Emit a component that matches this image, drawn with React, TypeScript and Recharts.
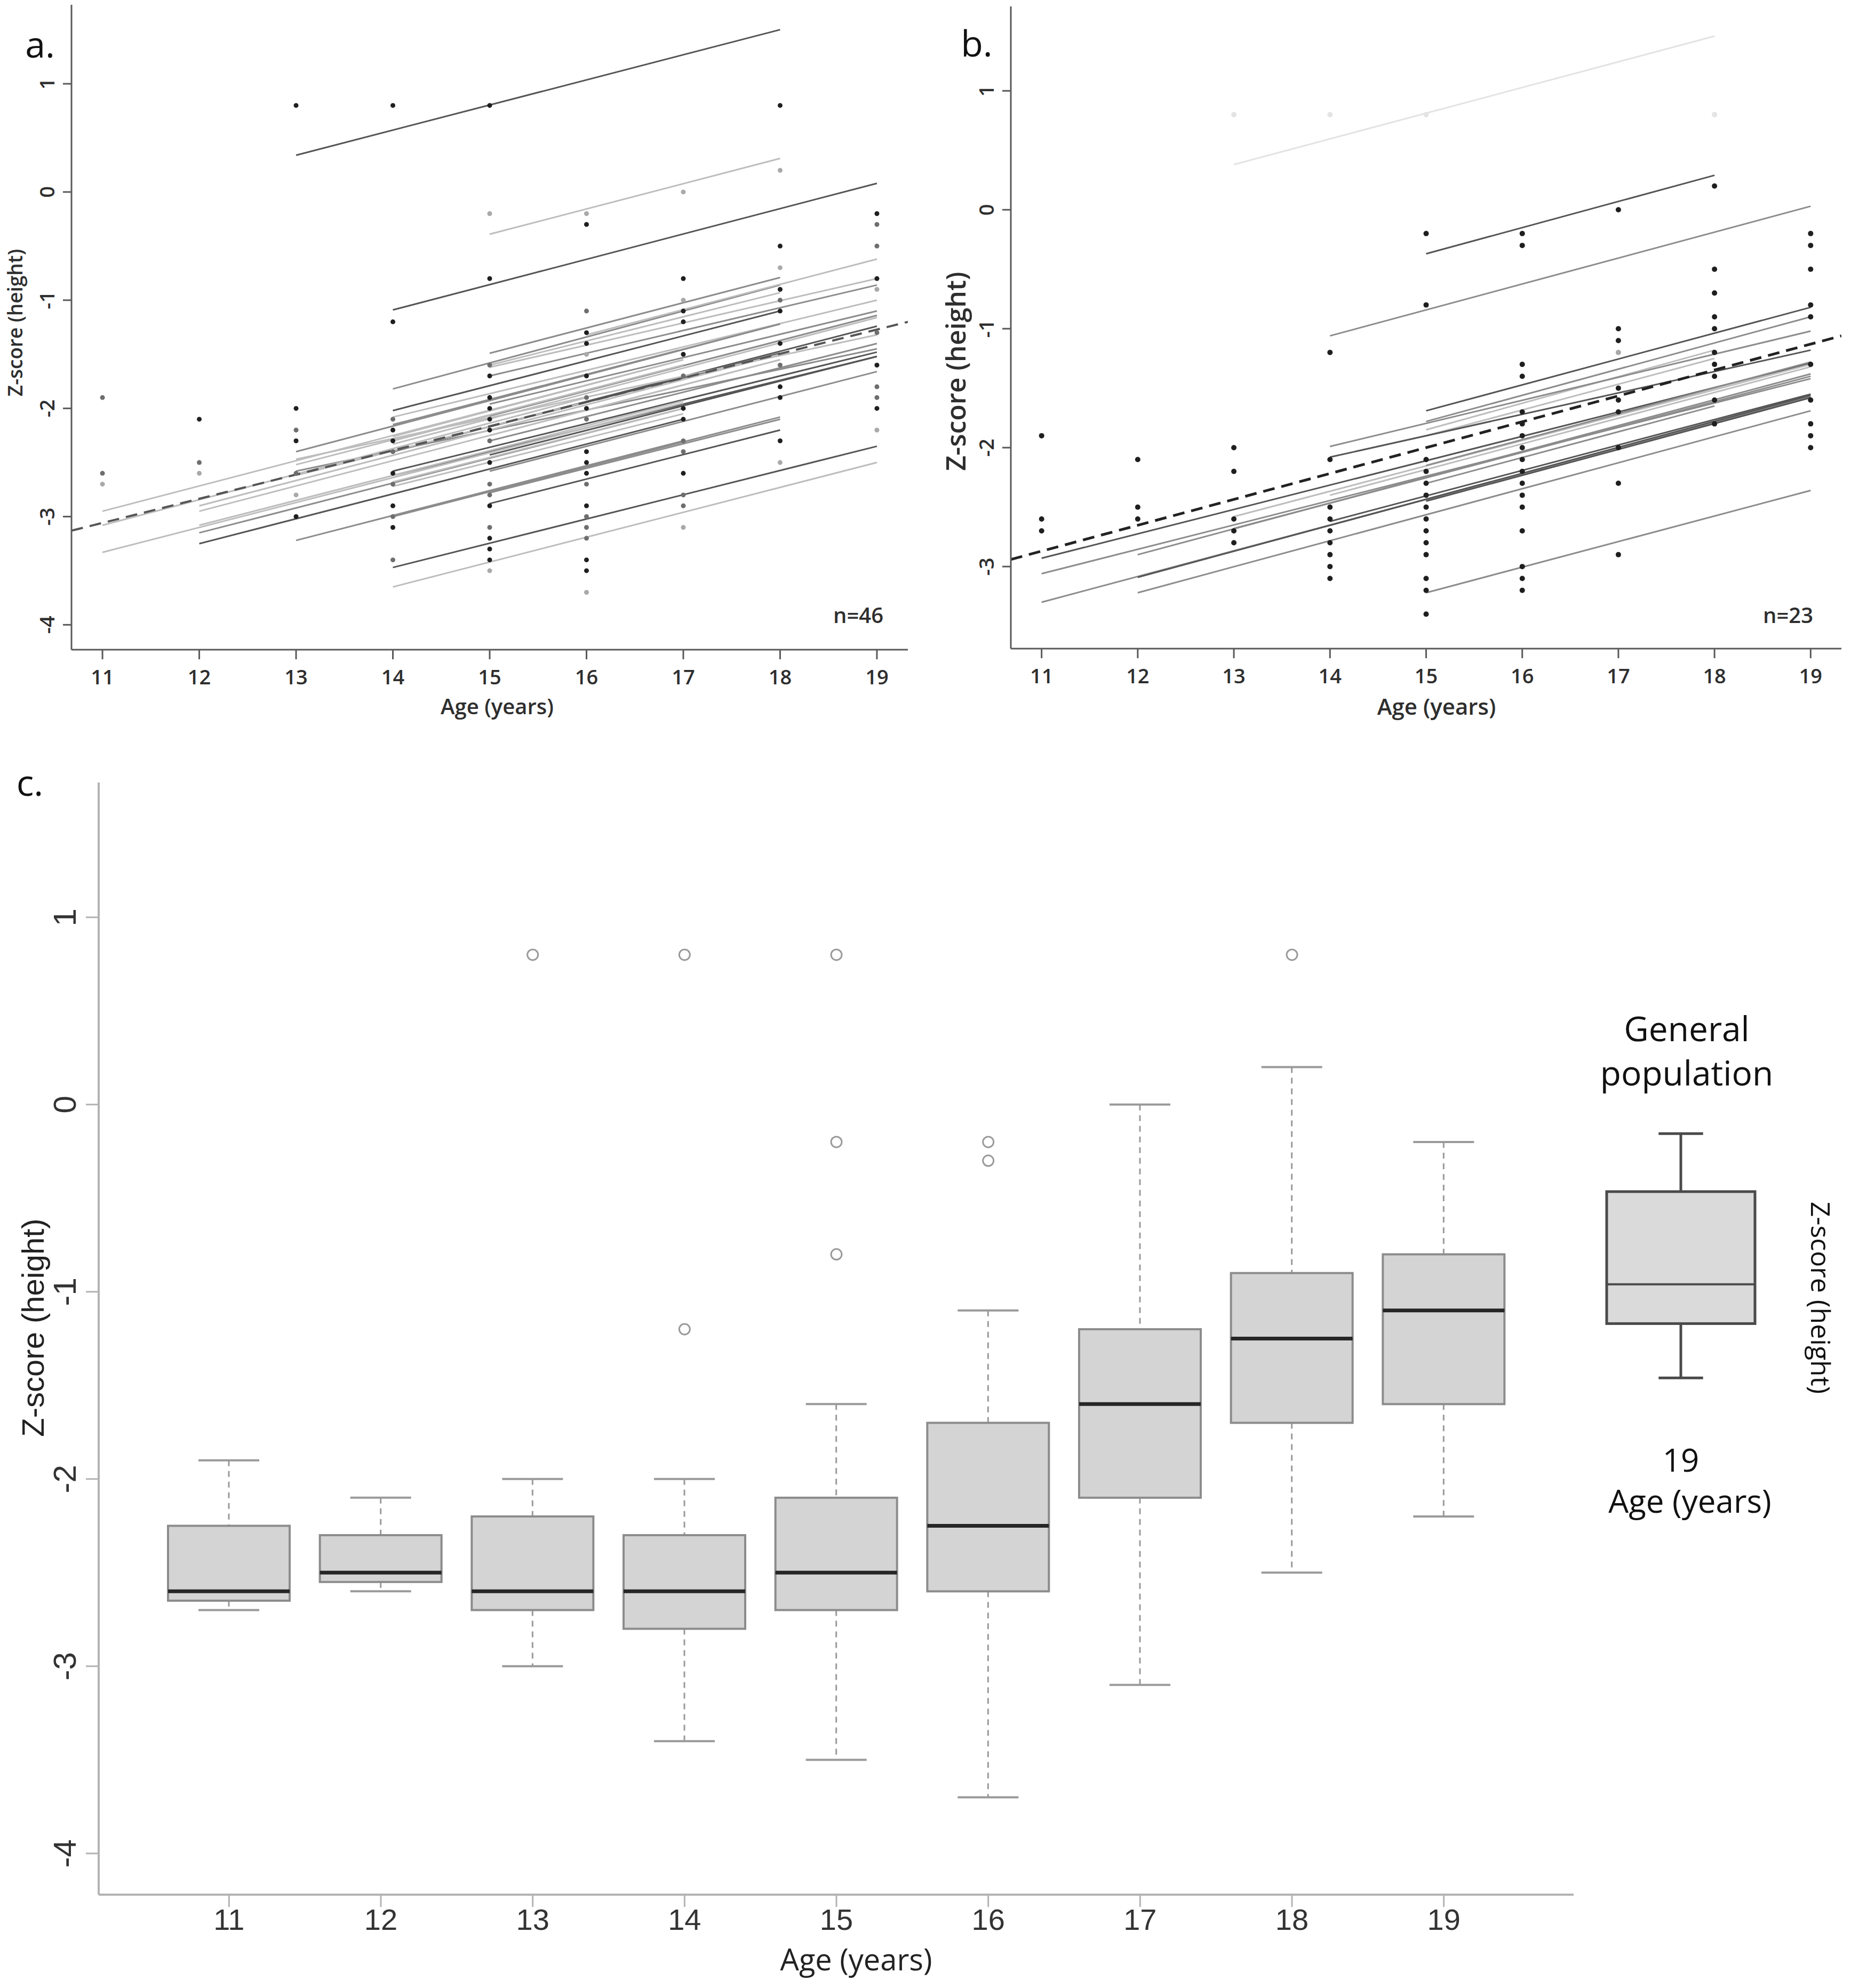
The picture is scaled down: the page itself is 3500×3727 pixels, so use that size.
import React from "react";
import { ComposedChart, Line, Scatter, Bar, XAxis, YAxis } from "recharts";

// ---------- shared ----------
const AGES = [11, 12, 13, 14, 15, 16, 17, 18, 19];
const X_DOMAIN = [10.68, 19.32];

const LINE_TONES = ["#555555", "#8c8c8c", "#bdbdbd", "#e3e3e3"];
const DOT_TONES = ["#1f1f1f", "#6e6e6e", "#a9a9a9", "#e4e4e4"];

// ---------- panel a (n=46) ----------
// [startAge, startZ, endAge, endZ, tone]
const A_LINES = [
  [13, 0.34, 18, 1.5, 0],
  [15, -0.39, 18, 0.31, 2],
  [14, -1.09, 19, 0.08, 0],
  [14, -1.82, 18, -0.86, 1],
  [15, -1.49, 18, -0.79, 1],
  [15, -1.62, 19, -0.8, 2],
  [15, -1.7, 19, -0.86, 1],
  [14, -2.02, 18, -1.1, 0],
  [14, -2.08, 19, -1.0, 2],
  [15, -1.96, 19, -1.1, 1],
  [14, -2.26, 17, -1.55, 2],
  [14, -2.3, 17, -1.6, 2],
  [14, -2.33, 19, -1.16, 2],
  [15, -2.07, 19, -1.14, 1],
  [15, -2.17, 18, -1.49, 0],
  [13, -2.4, 18, -1.22, 1],
  [14, -2.4, 19, -1.24, 0],
  [13, -2.47, 19, -1.32, 2],
  [15, -2.3, 19, -1.4, 1],
  [13, -2.58, 19, -1.45, 1],
  [14, -2.58, 19, -1.48, 0],
  [14, -2.62, 19, -1.52, 0],
  [12, -2.9, 18, -1.5, 2],
  [11, -2.95, 17, -1.55, 2],
  [11, -3.08, 16, -1.9, 2],
  [11, -3.33, 17, -1.95, 2],
  [12, -2.95, 18, -1.55, 2],
  [12, -3.08, 17, -1.93, 2],
  [12, -3.15, 17, -2.0, 1],
  [12, -3.25, 17, -2.1, 0],
  [13, -2.62, 16, -1.94, 2],
  [14, -2.68, 17, -2.0, 2],
  [14, -2.72, 17, -2.05, 2],
  [15, -2.43, 19, -1.52, 0],
  [15, -2.58, 19, -1.66, 1],
  [14, -3.0, 18, -2.08, 1],
  [15, -2.78, 18, -2.1, 1],
  [15, -2.88, 18, -2.2, 0],
  [13, -3.22, 17, -2.3, 1],
  [14, -3.47, 19, -2.35, 0],
  [14, -3.65, 19, -2.5, 2],
  [15, -1.6, 18, -0.93, 2],
  [15, -2.25, 18, -1.55, 2],
  [14, -2.15, 18, -1.22, 1],
  [13, -2.52, 17, -1.6, 2],
  [16, -1.32, 19, -0.62, 2],
];
const A_MEAN = [
  [10.68, -3.13],
  [19.32, -1.2],
];
const A_DOTS_DARK = [
  [13, 0.8], [14, 0.8], [15, 0.8], [18, 0.8],
  [12, -2.1], [13, -2.0], [13, -2.3], [13, -3.0],
  [14, -1.2], [14, -2.2], [14, -2.3], [14, -2.6], [14, -2.9], [14, -3.1],
  [15, -0.8], [15, -1.7], [15, -1.9], [15, -2.0], [15, -2.1], [15, -2.2], [15, -2.5], [15, -2.9], [15, -3.2], [15, -3.3], [15, -3.4],
  [16, -0.3], [16, -1.3], [16, -1.4], [16, -1.7], [16, -2.0], [16, -2.4], [16, -2.5], [16, -2.6], [16, -2.9], [16, -3.4], [16, -3.5],
  [17, -0.8], [17, -1.1], [17, -1.2], [17, -1.5], [17, -2.0], [17, -2.1], [17, -2.6],
  [18, -0.5], [18, -0.9], [18, -1.1], [18, -1.4], [18, -1.8], [18, -1.9], [18, -2.3],
  [19, -0.2], [19, -0.8], [19, -1.6], [19, -2.0],
];
const A_DOTS_MID = [
  [11, -1.9], [11, -2.6], [12, -2.5], [13, -2.2], [13, -2.6],
  [14, -2.1], [14, -2.4], [14, -2.7], [14, -3.0], [14, -3.4],
  [15, -1.6], [15, -2.3], [15, -2.7], [15, -2.8], [15, -3.1],
  [16, -1.1], [16, -1.9], [16, -2.1], [16, -2.7], [16, -3.0], [16, -3.1], [16, -3.2],
  [17, -1.7], [17, -2.3], [17, -2.4], [17, -2.8], [17, -2.9],
  [18, -1.0], [18, -1.6],
  [19, -0.3], [19, -0.5], [19, -1.3], [19, -1.8], [19, -1.9],
];
const A_DOTS_LIGHT = [
  [11, -2.7], [12, -2.6], [13, -2.8], [15, -0.2], [15, -3.5], [16, -0.2], [16, -1.5], [16, -3.7],
  [17, 0.0], [17, -1.0], [17, -3.1], [18, 0.2], [18, -0.7], [18, -2.5], [19, -0.9], [19, -2.2],
];

// ---------- panel b (n=23) ----------
const B_LINES = [
  [13, 0.38, 18, 1.46, 3],
  [15, -0.37, 18, 0.29, 0],
  [14, -1.06, 19, 0.03, 1],
  [15, -1.69, 19, -0.82, 0],
  [15, -1.78, 19, -0.9, 1],
  [15, -1.85, 18, -1.18, 2],
  [15, -1.9, 18, -1.25, 2],
  [14, -1.99, 19, -1.02, 1],
  [14, -2.08, 19, -1.18, 0],
  [11, -2.93, 19, -1.29, 0],
  [11, -3.06, 19, -1.42, 1],
  [11, -3.3, 19, -1.57, 1],
  [12, -2.9, 19, -1.38, 1],
  [12, -3.09, 19, -1.56, 0],
  [12, -3.22, 19, -1.69, 1],
  [13, -2.58, 19, -1.3, 2],
  [13, -2.68, 19, -1.4, 1],
  [14, -2.4, 19, -1.32, 2],
  [14, -2.62, 19, -1.55, 0],
  [15, -2.15, 19, -1.28, 1],
  [15, -2.3, 18, -1.65, 1],
  [15, -2.45, 19, -1.58, 0],
  [15, -3.22, 19, -2.36, 1],
];
const B_MEAN = [
  [10.68, -2.94],
  [19.32, -1.06],
];
const B_DOTS_DARK = [
  [11, -1.9], [11, -2.6], [11, -2.7],
  [12, -2.1], [12, -2.5], [12, -2.6],
  [13, -2.0], [13, -2.2], [13, -2.6], [13, -2.7], [13, -2.8],
  [14, -1.2], [14, -2.1], [14, -2.5], [14, -2.6], [14, -2.7], [14, -2.8], [14, -2.9], [14, -3.0], [14, -3.1],
  [15, -0.2], [15, -0.8], [15, -2.1], [15, -2.2], [15, -2.3], [15, -2.4], [15, -2.5], [15, -2.6], [15, -2.7], [15, -2.8], [15, -2.9], [15, -3.1], [15, -3.2], [15, -3.4],
  [16, -0.2], [16, -0.3], [16, -1.3], [16, -1.4], [16, -1.7], [16, -1.8], [16, -1.9], [16, -2.0], [16, -2.1], [16, -2.2], [16, -2.3], [16, -2.4], [16, -2.5], [16, -2.7], [16, -3.0], [16, -3.1], [16, -3.2],
  [17, 0.0], [17, -1.0], [17, -1.1], [17, -1.5], [17, -1.6], [17, -1.7], [17, -2.0], [17, -2.3], [17, -2.9],
  [18, 0.2], [18, -0.5], [18, -0.7], [18, -0.9], [18, -1.0], [18, -1.2], [18, -1.3], [18, -1.4], [18, -1.6], [18, -1.8],
  [19, -0.2], [19, -0.3], [19, -0.5], [19, -0.8], [19, -0.9], [19, -1.3], [19, -1.6], [19, -1.8], [19, -1.9], [19, -2.0],
];
const B_DOTS_LIGHT = [[17, -1.2]];
const B_DOTS_FAINT = [[13, 0.8], [14, 0.8], [15, 0.8], [18, 0.8]];

// ---------- panel c (box plots) ----------
const BOX_N = [3, 7, 12, 30, 42, 42, 33, 22, 18];
const BOX_LO = [-2.7, -2.6, -3.0, -3.4, -3.5, -3.7, -3.1, -2.5, -2.2];
const BOX_Q1 = [-2.65, -2.55, -2.7, -2.8, -2.7, -2.6, -2.1, -1.7, -1.6];
const BOX_MED = [-2.6, -2.5, -2.6, -2.6, -2.5, -2.25, -1.6, -1.25, -1.1];
const BOX_Q3 = [-2.25, -2.3, -2.2, -2.3, -2.1, -1.7, -1.2, -0.9, -0.8];
const BOX_HI = [-1.9, -2.1, -2.0, -2.0, -1.6, -1.1, 0.0, 0.2, -0.2];
const OUT_1 = [null, null, 0.8, 0.8, 0.8, -0.2, null, 0.8, null];
const OUT_2 = [null, null, null, -1.2, -0.2, -0.3, null, null, null];
const OUT_3 = [null, null, null, null, -0.8, null, null, null, null];

// general population, age 19
const GEN_AGE = ["19"];
const GEN_LO = [-1.46];
const GEN_Q1 = [-1.17];
const GEN_MED = [-0.96];
const GEN_Q3 = [-0.465];
const GEN_HI = [-0.155];

const C_DOMAIN = [-4.22, 1.72];
const C_TICKS = [-4, -3, -2, -1, 0, 1];

const boxData = AGES.map((age, i) => ({
  age,
  lo: BOX_LO[i],
  q1: BOX_Q1[i],
  med: BOX_MED[i],
  q3: BOX_Q3[i],
  hi: BOX_HI[i],
  o1: OUT_1[i],
  o2: OUT_2[i],
  o3: OUT_3[i],
}));

const genData = GEN_AGE.map((age, i) => ({
  age,
  lo: GEN_LO[i],
  q1: GEN_Q1[i],
  med: GEN_MED[i],
  q3: GEN_Q3[i],
  hi: GEN_HI[i],
}));

const toXY = (pts) => pts.map(([x, y]) => ({ x, y }));

// ---------- tick renderers ----------
const abXTick = (p) => (
  <text
    x={p.x}
    y={p.y + 32}
    textAnchor="middle"
    dominantBaseline="central"
    fontSize={38}
    fontWeight={600}
    fill="#2e2e2e"
    fontFamily="Open Sans"
  >
    {p.payload.value}
  </text>
);

const abYTick = (p) => (
  <text
    transform={`translate(${p.x - 31},${p.y}) rotate(-90)`}
    textAnchor="middle"
    dominantBaseline="central"
    fontSize={38}
    fontWeight={600}
    fill="#2e2e2e"
    fontFamily="Open Sans"
  >
    {p.payload.value}
  </text>
);

const cXTick = (p) => (
  <text
    x={p.x}
    y={p.y + 23}
    textAnchor="middle"
    dominantBaseline="central"
    fontSize={56}
    fill="#333"
    fontFamily="Liberation Sans"
  >
    {p.payload.value}
  </text>
);

const cYTick = (p) => (
  <text
    transform={`translate(${p.x - 40},${p.y}) rotate(-90)`}
    textAnchor="middle"
    dominantBaseline="central"
    fontSize={60}
    fill="#333"
    fontFamily="Liberation Sans"
  >
    {p.payload.value}
  </text>
);

const nTick = (p) => (
  <text
    x={p.x}
    y={p.y + 81}
    textAnchor="middle"
    dominantBaseline="central"
    fontSize={46}
    fill="#555"
    fontFamily="Liberation Sans"
  >
    {`n = ${BOX_N[AGES.indexOf(p.payload.value)]}`}
  </text>
);

// ---------- box shapes ----------
function makeBoxShape(style) {
  return (props) => {
    const { x, y, width, height, payload } = props;
    const top = Math.min(y, y + height);
    const h = Math.abs(height);
    const span = payload.hi - payload.lo || 1;
    const py = (v) => top + ((payload.hi - v) / span) * h;
    const cx = x + width / 2;
    const cap = (width * style.cap) / 2;
    return (
      <g>
        <line x1={cx} x2={cx} y1={py(payload.hi)} y2={py(payload.q3)} stroke={style.whisker} strokeWidth={style.wWidth} strokeDasharray={style.dash} />
        <line x1={cx} x2={cx} y1={py(payload.q1)} y2={py(payload.lo)} stroke={style.whisker} strokeWidth={style.wWidth} strokeDasharray={style.dash} />
        <line x1={cx - cap} x2={cx + cap} y1={py(payload.hi)} y2={py(payload.hi)} stroke={style.whisker} strokeWidth={style.capWidth} />
        <line x1={cx - cap} x2={cx + cap} y1={py(payload.lo)} y2={py(payload.lo)} stroke={style.whisker} strokeWidth={style.capWidth} />
        <rect x={x} y={py(payload.q3)} width={width} height={py(payload.q1) - py(payload.q3)} fill={style.fill} stroke={style.stroke} strokeWidth={style.sWidth} />
        <line x1={x} x2={x + width} y1={py(payload.med)} y2={py(payload.med)} stroke={style.median} strokeWidth={style.mWidth} />
      </g>
    );
  };
}

const boxShape = makeBoxShape({
  whisker: "#9a9a9a",
  wWidth: 3,
  capWidth: 4,
  dash: "11 9",
  cap: 0.5,
  fill: "#d4d4d4",
  stroke: "#8c8c8c",
  sWidth: 4,
  median: "#262626",
  mWidth: 7,
});

const genShape = makeBoxShape({
  whisker: "#4a4a4a",
  wWidth: 5,
  capWidth: 5,
  dash: undefined,
  cap: 0.3,
  fill: "#dadada",
  stroke: "#4a4a4a",
  sWidth: 5,
  median: "#4a4a4a",
  mWidth: 4,
});

const outlierDot = (p) => {
  if (p.value == null || p.cy == null || Number.isNaN(p.cy)) return <g key={`e-${p.index}`} />;
  return <circle key={`o-${p.index}`} cx={p.cx} cy={p.cy} r={10} fill="none" stroke="#9a9a9a" strokeWidth={3} />;
};

// ---------- panels ----------
function SpaghettiPanel({ width, height, margin, lines, mean, meanStroke, meanWidth, dotGroups, dotR, yDomain, yTicks }) {
  const frame = { stroke: "#5a5a5a", strokeWidth: 3 };
  return (
    <ComposedChart width={width} height={height} margin={margin}>
      <XAxis
        xAxisId="b"
        type="number"
        dataKey="x"
        domain={X_DOMAIN}
        ticks={AGES}
        interval={0}
        allowDataOverflow
        height={150}
        tickSize={18}
        tickMargin={0}
        axisLine={frame}
        tickLine={frame}
        tick={abXTick}
      />
      <XAxis xAxisId="t" orientation="top" type="number" dataKey="x" domain={X_DOMAIN} allowDataOverflow height={0} tick={false} tickLine={false} axisLine={frame} />
      <YAxis
        yAxisId="l"
        type="number"
        dataKey="y"
        domain={yDomain}
        ticks={yTicks}
        interval={0}
        allowDataOverflow
        width={120}
        tickSize={16}
        tickMargin={0}
        axisLine={frame}
        tickLine={frame}
        tick={abYTick}
      />
      <YAxis yAxisId="r" orientation="right" type="number" domain={yDomain} allowDataOverflow width={0} tick={false} tickLine={false} axisLine={frame} />
      {lines.map((l, i) => (
        <Line
          key={`l${i}`}
          xAxisId="b"
          yAxisId="l"
          data={[
            { x: l[0], y: l[1] },
            { x: l[2], y: l[3] },
          ]}
          dataKey="y"
          type="linear"
          stroke={LINE_TONES[l[4]]}
          strokeWidth={3}
          dot={false}
          isAnimationActive={false}
        />
      ))}
      <Line
        xAxisId="b"
        yAxisId="l"
        data={toXY(mean)}
        dataKey="y"
        type="linear"
        stroke={meanStroke}
        strokeWidth={meanWidth}
        strokeDasharray="22 13"
        dot={false}
        isAnimationActive={false}
      />
      {dotGroups.map((g, i) => (
        <Scatter
          key={`s${i}`}
          xAxisId="b"
          yAxisId="l"
          data={toXY(g.pts)}
          isAnimationActive={false}
          shape={(p) => <circle cx={p.cx} cy={p.cy} r={dotR} fill={g.color} />}
        />
      ))}
    </ComposedChart>
  );
}

function BoxPanel() {
  const frame = { stroke: "#b3b3b3", strokeWidth: 4 };
  return (
    <ComposedChart width={3000} height={2347} data={boxData} margin={{ top: 87, right: 50, bottom: 55, left: 35 }}>
      <XAxis
        xAxisId="b"
        dataKey="age"
        type="category"
        padding={{ left: 102, right: 101 }}
        interval={0}
        height={120}
        tickSize={23}
        tickMargin={0}
        axisLine={frame}
        tickLine={{ stroke: "#b3b3b3", strokeWidth: 3 }}
        tick={cXTick}
      />
      <XAxis
        xAxisId="t"
        orientation="top"
        dataKey="age"
        type="category"
        padding={{ left: 102, right: 101 }}
        interval={0}
        height={0}
        tickSize={0}
        tickMargin={0}
        tickLine={false}
        axisLine={frame}
        tick={nTick}
      />
      <YAxis
        yAxisId="l"
        type="number"
        domain={C_DOMAIN}
        ticks={C_TICKS}
        interval={0}
        allowDataOverflow
        width={150}
        tickSize={24}
        tickMargin={0}
        axisLine={frame}
        tickLine={{ stroke: "#b3b3b3", strokeWidth: 3 }}
        tick={cYTick}
      />
      <YAxis yAxisId="r" orientation="right" type="number" domain={C_DOMAIN} allowDataOverflow width={0} tick={false} tickLine={false} axisLine={frame} />
      <Bar
        xAxisId="b"
        yAxisId="l"
        dataKey={(d) => [d.lo, d.hi]}
        barSize={228}
        shape={boxShape}
        isAnimationActive={false}
      />
      {["o1", "o2", "o3"].map((k) => (
        <Line
          key={k}
          xAxisId="b"
          yAxisId="l"
          dataKey={k}
          stroke="none"
          strokeWidth={0}
          dot={outlierDot}
          activeDot={false}
          isAnimationActive={false}
        />
      ))}
    </ComposedChart>
  );
}

function GeneralPanel() {
  return (
    <ComposedChart width={330} height={2347} data={genData} margin={{ top: 87, right: 8, bottom: 175, left: 0 }}>
      <XAxis dataKey="age" type="category" hide />
      <YAxis type="number" domain={C_DOMAIN} allowDataOverflow hide />
      <Bar dataKey={(d) => [d.lo, d.hi]} barSize={278} shape={genShape} isAnimationActive={false} />
    </ComposedChart>
  );
}

function Txt({ x, y, size, children, rotate = 0, family = "Open Sans", weight = 400, color = "#111" }) {
  return (
    <div
      style={{
        position: "absolute",
        left: x,
        top: y,
        transform: `translate(-50%, -50%) rotate(${rotate}deg)`,
        fontSize: size,
        fontFamily: family,
        fontWeight: weight,
        color,
        lineHeight: 1,
        whiteSpace: "nowrap",
      }}
    >
      {children}
    </div>
  );
}

export default function App() {
  return (
    <div
      style={{
        position: "absolute",
        left: 0,
        top: 0,
        width: 3500,
        height: 3727,
        background: "#fff",
        overflow: "hidden",
        fontFamily: "Open Sans",
      }}
    >
      <div style={{ position: "absolute", left: 0, top: 0 }}>
        <SpaghettiPanel
          width={1760}
          height={1380}
          margin={{ top: 9, right: 58, bottom: 12, left: 14 }}
          lines={A_LINES}
          mean={A_MEAN}
          meanStroke="#555"
          meanWidth={4}
          dotGroups={[
            { pts: A_DOTS_LIGHT, color: DOT_TONES[2] },
            { pts: A_DOTS_MID, color: DOT_TONES[1] },
            { pts: A_DOTS_DARK, color: DOT_TONES[0] },
          ]}
          dotR={4.5}
          yDomain={[-4.23, 1.73]}
          yTicks={[-4, -3, -2, -1, 0, 1]}
        />
      </div>
      <div style={{ position: "absolute", left: 1760, top: 0 }}>
        <SpaghettiPanel
          width={1740}
          height={1380}
          margin={{ top: 12, right: 48, bottom: 14, left: 15 }}
          lines={B_LINES}
          mean={B_MEAN}
          meanStroke="#222"
          meanWidth={5}
          dotGroups={[
            { pts: B_DOTS_FAINT, color: DOT_TONES[3] },
            { pts: B_DOTS_LIGHT, color: DOT_TONES[2] },
            { pts: B_DOTS_DARK, color: DOT_TONES[0] },
          ]}
          dotR={5}
          yDomain={[-3.69, 1.71]}
          yTicks={[-3, -2, -1, 0, 1]}
        />
      </div>
      <div style={{ position: "absolute", left: 0, top: 1380 }}>
        <BoxPanel />
      </div>
      <div style={{ position: "absolute", left: 2990, top: 1380 }}>
        <GeneralPanel />
      </div>

      {/* panel a texts */}
      <Txt x={75} y={82} size={68}>a.</Txt>
      <Txt x={27} y={605} size={37} weight={600} color="#2e2e2e" rotate={-90}>Z-score (height)</Txt>
      <Txt x={932} y={1324} size={40} weight={600} color="#2e2e2e">Age (years)</Txt>
      <Txt x={1609} y={1153} size={40} weight={600} color="#2e2e2e">n=46</Txt>

      {/* panel b texts */}
      <Txt x={1831} y={80} size={68}>b.</Txt>
      <Txt x={1791} y={696} size={50} weight={600} color="#2e2e2e" rotate={-90}>Z-score (height)</Txt>
      <Txt x={2693} y={1324} size={42} weight={600} color="#2e2e2e">Age (years)</Txt>
      <Txt x={3352} y={1153} size={40} weight={600} color="#2e2e2e">n=23</Txt>

      {/* panel c texts */}
      <Txt x={56} y={1466} size={68}>c.</Txt>
      <Txt x={62} y={2489} size={58} family="Liberation Sans" color="#222" rotate={-90}>Z-score (height)</Txt>
      <Txt x={1605} y={3672} size={56} color="#222">Age (years)</Txt>

      {/* general population texts */}
      <Txt x={3162} y={1928} size={64}>General</Txt>
      <Txt x={3162} y={2011} size={64}>population</Txt>
      <Txt x={3151} y={2736} size={60}>19</Txt>
      <Txt x={3168} y={2813} size={60}>Age (years)</Txt>
      <Txt x={3414} y={2433} size={50} rotate={90}>Z-score (height)</Txt>
    </div>
  );
}
